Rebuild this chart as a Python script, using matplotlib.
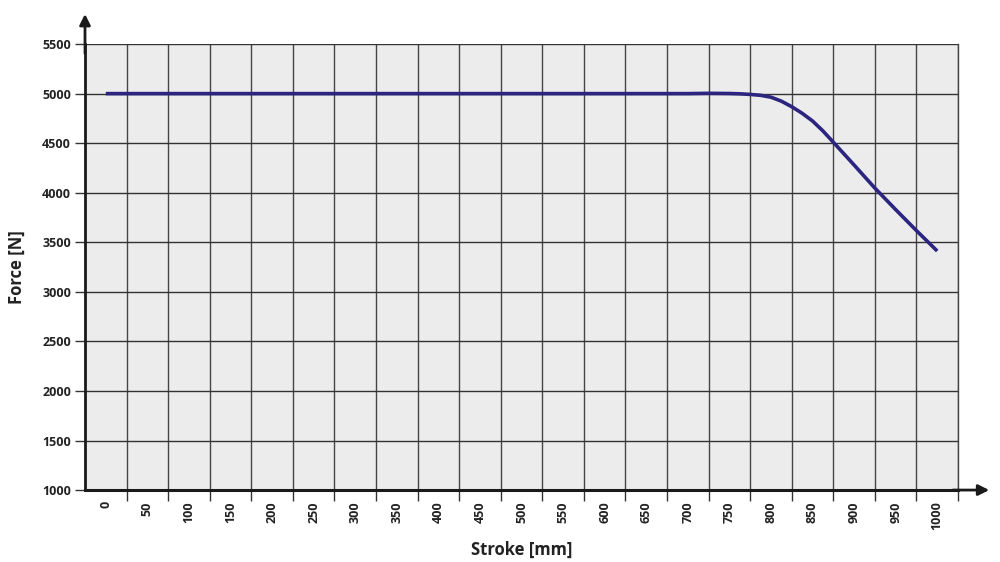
import numpy as np
import matplotlib.pyplot as plt

# Force over stroke
stroke = [0, 100, 200, 300, 400, 500, 600, 700, 725, 750, 762.5, 775, 787.5,
          800, 812.5, 825, 837.5, 850, 862.5, 875, 900, 925, 950, 975, 1000]
force = [5000, 5000, 5000, 5000, 5000, 5000, 5000, 5000, 5003, 5001, 4998,
         4992, 4983, 4964, 4924, 4868, 4802, 4724, 4624, 4510, 4280, 4047,
         3830, 3618, 3412]

x_labels = list(range(0, 1001, 50))
y_ticks = list(range(1000, 5501, 500))

plt.rcParams['font.family'] = ['Open Sans', 'DejaVu Sans']
plt.rcParams['font.weight'] = 'bold'

fig = plt.figure(figsize=(10, 5.62), dpi=100)
ax = fig.add_axes([0.085, 0.128, 0.873, 0.7936])
ax.set_facecolor('#ececec')

ax.plot(stroke, force, color='#2b2580', lw=2.6, solid_capstyle='butt',
        solid_joinstyle='round', zorder=3)

ax.set_xlim(-25, 1025)
ax.set_ylim(1000, 5500)

# labels in the middle of each cell, grid lines on cell borders
ax.set_xticks(x_labels)
ax.set_xticklabels([str(v) for v in x_labels], rotation=90, fontsize=9,
                   fontweight='bold', color='#222222')
ax.tick_params(axis='x', which='major', length=0, pad=8)
ax.set_xticks(np.arange(25, 1026, 50), minor=True)
ax.tick_params(axis='x', which='minor', length=8, width=1, color='#333333',
               direction='out')
ax.grid(True, axis='x', which='minor', color='#444444', lw=1)

ax.set_yticks(y_ticks)
ax.set_yticklabels([str(v) for v in y_ticks], fontsize=9, fontweight='bold',
                   color='#222222')
ax.tick_params(axis='y', which='major', length=7, width=1, color='#333333', pad=3)
ax.grid(True, axis='y', which='major', color='#333333', lw=1)
ax.set_axisbelow(True)

ax.spines['top'].set_visible(False)
ax.spines['right'].set_color('#444444')
ax.spines['right'].set_linewidth(1)
ax.spines['left'].set_linewidth(2)
ax.spines['bottom'].set_linewidth(2.2)
ax.spines['left'].set_color('#1a1a1a')
ax.spines['bottom'].set_color('#1a1a1a')

# arrows extending the axes
ax.annotate('', xy=(0.085, 0.98), xytext=(0.085, 0.9),
            xycoords='figure fraction', textcoords='figure fraction',
            arrowprops=dict(arrowstyle='-|>', color='#1a1a1a', lw=2,
                            mutation_scale=16))
ax.annotate('', xy=(0.992, 0.128), xytext=(0.95, 0.128),
            xycoords='figure fraction', textcoords='figure fraction',
            arrowprops=dict(arrowstyle='-|>', color='#1a1a1a', lw=2,
                            mutation_scale=16))

ax.set_xlabel('Stroke [mm]', fontsize=12, fontweight='bold', color='#222222',
              labelpad=8)
ax.set_ylabel('Force [N]', fontsize=12, fontweight='bold', color='#222222',
              labelpad=12)

fig.savefig('out.png', dpi=100)
